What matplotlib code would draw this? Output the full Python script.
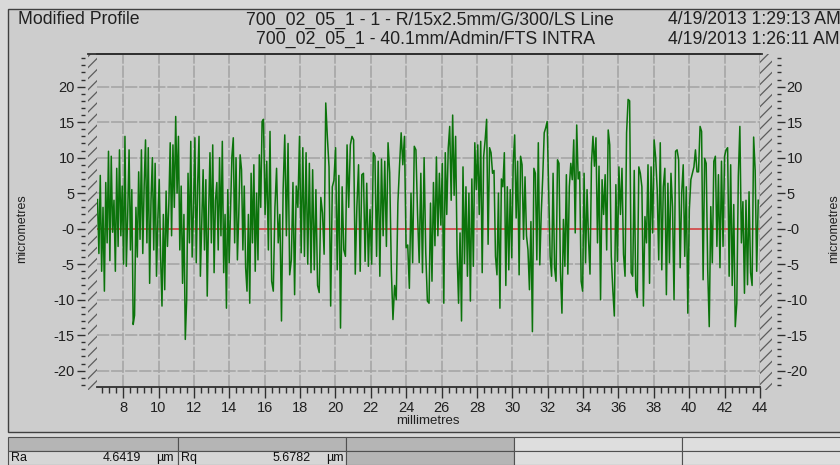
import numpy as np
import matplotlib
matplotlib.use("Agg")
import matplotlib.pyplot as plt
from matplotlib.patches import Rectangle
from matplotlib.lines import Line2D
from matplotlib.ticker import MultipleLocator, FixedLocator, FixedFormatter

plt.rcParams['font.family'] = ['Liberation Sans', 'DejaVu Sans']
plt.rcParams['hatch.linewidth'] = 0.9

# ---------------- text / labels ----------------
title_left = "Modified Profile"
title_lines = ["700_02_05_1 - 1 - R/15x2.5mm/G/300/LS Line",
               "700_02_05_1 - 40.1mm/Admin/FTS INTRA"]
dates = ["4/19/2013 1:29:13 AM", "4/19/2013 1:26:11 AM"]
x_label = "millimetres"
y_label = "micrometres"
x_ticks = list(range(8, 45, 2))
y_ticks = [-20, -15, -10, -5, 0, 5, 10, 15, 20]
y_tick_labels = ["-20", "-15", "-10", "-5", "-0", "5", "10", "15", "20"]
param_names = ["Ra", "Rq"]
param_values = ["4.6419", "5.6782"]
param_unit = "µm"

# ---------------- profile data (µm) ----------------
segment_edges_mm = [6.55, 15.93, 25.29, 34.64, 43.9]
seg1 = [4.1, -3.5, 7.5, -6.0, 3.0, -8.8, 6.5, -2.0, 10.9, -4.5, 10.2, -0.5, 4.0, -6.0,
        8.5, -2.5, 11.1, -1.0, 6.0, -5.0, 13.0, -5.3, 2.0, 11.1, -3.0, 5.5, -13.5, -12.2,
        3.0, -4.0, 8.0, -1.5, 11.1, -3.5, 6.0, 12.5, -2.0, 11.4, -7.7, 4.0, 10.0, -3.0,
        9.2, -6.7, 1.5, 6.9, -4.0, -10.9, 2.0, -8.6, 5.3, -2.5, 3.5, 12.1, -1.0, 11.8,
        3.0, 15.8, 5.0, 13.0, -3.0, 6.0, -7.7, 2.0, -15.6, -10.0, 7.8, -2.0, 12.3, -4.0,
        3.0, 12.8, -4.8, 6.0, 13.0, -6.7, 1.0, 8.3, -3.0, 6.9, -9.5, 2.0, 10.7, -2.0,
        11.8, -6.2, 4.0, 6.5, -3.0, 10.0, -1.0, 12.3, -6.2, 2.0, -11.2, 5.5, -4.8, 3.0,
        10.2, 12.8, -2.0, 10.0, -4.4, 2.0, 10.4, 8.3, -3.0, 6.0, -5.5, -8.8, 2.0, -10.5,
        7.8, -2.0, 9.0, -6.0, 5.0, -4.4, 10.4, 3.0, 15.1]
seg2 = [15.4, 2.0, 9.5, -3.0, 13.7, -7.4, -8.8, 3.0, 8.5, -2.0, 2.0, -13.0, 5.5, 13.2,
        -1.0, 12.0, -6.5, -4.4, 6.5, -9.3, 6.0, 3.0, 13.0, -3.4, 11.4, -3.9, 10.7, -5.0,
        9.2, -6.2, 8.3, -5.8, 5.5, -8.0, -9.0, 4.4, 2.2, -3.6, 17.7, 12.8, 8.7, -10.9,
        5.9, 6.8, 11.4, -5.8, 7.5, -14.0, 5.9, -3.0, -3.9, 11.8, 3.0, 11.8, 13.0, 12.5,
        -6.4, 3.2, 9.0, -6.0, 7.6, 7.8, -4.6, 6.4, -5.3, 2.7, -5.0, 10.7, 10.2, -3.9,
        9.5, -6.7, 9.8, -1.0, 9.5, -2.5, 12.1, 7.9, -5.8, -12.8, -8.0, -10.0, 3.6, 8.8,
        13.5, 9.0, 13.0, -2.7, -2.3, -8.4, 5.0, -4.8, 11.6, 11.1, 2.0, -4.8, 7.8, -6.2,
        10.0, -3.4, -10.2]
seg3 = [-10.5, 3.6, -7.4, 6.5, -2.4, 10.1, -1.0, 7.8, 0.5, 9.2, -10.5, 10.7, 2.0, 11.3,
        14.4, 4.0, 16.0, 4.7, 13.0, -3.4, -10.5, -0.6, -13.0, 8.7, -4.9, 5.9, -6.7, 5.0,
        -10.2, 7.0, -5.3, 12.1, 5.5, 11.8, 2.0, 12.3, -6.2, 10.2, 12.5, 15.4, -2.2, 11.4,
        10.7, 7.8, 8.2, -3.9, -6.5, 5.0, -11.2, 7.0, 5.9, 10.7, -8.0, 5.9, -5.8, 5.5,
        -4.1, 9.2, 13.2, 1.5, 9.5, -6.5, 10.2, 9.0, -1.5, 7.3, -1.0, -3.0, -8.6, 1.0,
        -14.5, 8.5, 7.8, -4.4, 12.1, -5.1, 2.2, 7.3, 13.5, 14.2, 15.1, 5.9, -3.9, -6.7,
        7.8, -5.5, -7.4, 9.7, 9.2, -6.2, -11.9, 1.3, -5.3, 7.6, -6.4, 5.9, 9.2, 6.9,
        12.5, -0.6, 14.6, 7.0, 8.0, -7.4, -8.8, 7.8, -4.8, 5.5, -1.5, -6.4, 9.2, 13.0]
seg4 = [8.8, 12.8, -2.0, 8.8, -10.0, 6.9, 2.0, 7.6, -3.0, 13.9, 11.8, -3.9, -8.6, -12.3,
        6.2, -4.6, 8.7, 2.0, 8.5, -3.6, -6.7, 13.5, 18.2, 18.0, -6.2, -6.7, 8.2, -8.6,
        -9.7, 8.7, 7.8, 5.9, -10.9, 1.7, -2.0, 9.0, -7.7, 8.7, -0.6, 12.5, 10.0, 5.5,
        -4.4, 12.1, -5.8, 5.9, 8.5, -9.3, 6.4, -4.8, 7.8, 3.1, -10.0, 10.9, 11.1, 9.7,
        -5.5, 5.0, 9.0, -3.9, 5.9, -11.9, 2.7, 6.9, 7.8, 8.7, 11.1, 8.0, 8.0, 14.4, 13.7,
        -7.2, 9.9, 9.2, -5.8, -13.8, 3.1, -4.8, 9.5, 10.2, -2.5, 7.6, -5.5, 9.5, -2.5,
        10.2, 11.1, 11.4, -6.7, 9.0, -8.0, 3.4, -13.8, -10.5, 7.4, 14.4, -2.0, 3.8, -9.1,
        4.0, -7.9, 5.2, -6.2, -8.0, 12.9, 8.2, -6.0, 4.0]
segments = [seg1, seg2, seg3, seg4]

xs, ys = [], []
for i, seg in enumerate(segments):
    last = (i == len(segments) - 1)
    xs.append(np.linspace(segment_edges_mm[i], segment_edges_mm[i + 1], len(seg), endpoint=last))
    ys.append(np.array(seg, dtype=float))
x = np.concatenate(xs)
y = np.concatenate(ys)

# ---------------- figure ----------------
W, H = 840, 465
fig = plt.figure(figsize=(W / 100, H / 100), dpi=100)
fig.patch.set_facecolor('#d9d9d9')

def fx(px):
    return px / W

def fy(py):
    return 1 - py / H

# outer panel
fig.add_artist(Rectangle((fx(8), fy(432)), fx(845 - 8), (432 - 9) / H, transform=fig.transFigure,
                         facecolor='#cdcdcd', edgecolor='#404040', lw=1.0, zorder=0))

ax = fig.add_axes([fx(97), fy(387), fx(760 - 97), (387 - 54) / H])
ax.set_facecolor('#cdcdcd')
ax.set_xlim(6.52, 44.0)
ax.set_ylim(-22.3, 24.6)

ax.plot(x, y, color='#0b730b', lw=1.1, zorder=3)
ax.axhline(0, color='#d65050', lw=1.3, zorder=2)

ax.set_axisbelow(True)
ax.grid(True, which='major', color='#a3a3a3', lw=1.1, linestyle=(0, (8, 1.2)))

ax.xaxis.set_major_locator(FixedLocator(x_ticks))
ax.xaxis.set_minor_locator(MultipleLocator(0.4))
ax.yaxis.set_major_locator(FixedLocator(y_ticks))
ax.yaxis.set_major_formatter(FixedFormatter(y_tick_labels))
ax.yaxis.set_minor_locator(MultipleLocator(1))

for s in ['left', 'right']:
    ax.spines[s].set_visible(False)
ax.spines['left'].set_position(('outward', 9))
ax.spines['right'].set_position(('outward', 12))
for s in ['top', 'bottom']:
    ax.spines[s].set_color('#303030')
    ax.spines[s].set_linewidth(1.3)

ax.yaxis.set_ticks_position('both')
ax.tick_params(axis='y', which='both', labelleft=True, labelright=True, direction='out',
               color='#303030', width=1.0, pad=1, labelsize=10.5, labelcolor='#202020')
ax.tick_params(axis='y', which='major', length=6)
ax.tick_params(axis='y', which='minor', length=3)
ax.tick_params(axis='x', which='both', direction='out', color='#303030', width=1.0,
               labelsize=10.5, labelcolor='#202020', pad=2)
ax.tick_params(axis='x', which='major', length=8)
ax.tick_params(axis='x', which='minor', length=4)

# hatched side walls
for (l, r) in [(88, 97), (760, 772)]:
    fig.add_artist(Rectangle((fx(l), fy(390)), fx(r - l), (390 - 54) / H, transform=fig.transFigure,
                             facecolor='none', edgecolor='#5c5c5c', lw=0, hatch='///', zorder=5))
fig.add_artist(Line2D([fx(88), fx(762)], [fy(54), fy(54)], transform=fig.transFigure,
                      color='#303030', lw=1.3, zorder=6))

# axis labels
fig.text(fx(22), fy(229), y_label, rotation=90, ha='center', va='center', fontsize=9, color='#202020')
fig.text(fx(834), fy(229), y_label, rotation=90, ha='center', va='center', fontsize=9, color='#202020')
fig.text(fx(428), fy(421), x_label, ha='center', va='center', fontsize=9.5, color='#202020')

# header
hs = 12.7
fig.text(fx(18), fy(20), title_left, ha='left', va='center', fontsize=hs, color='#202020')
fig.text(fx(430), fy(20), title_lines[0], ha='center', va='center', fontsize=hs, color='#202020')
fig.text(fx(425), fy(39), title_lines[1], ha='center', va='center', fontsize=hs, color='#202020')
fig.text(fx(668), fy(20), dates[0], ha='left', va='center', fontsize=hs, color='#202020')
fig.text(fx(668), fy(39), dates[1], ha='left', va='center', fontsize=hs, color='#202020')

# bottom parameter table
cols = [8, 178, 346, 514, 682, 845]
row_tops = [437, 451]
row_h = 14
header_colors = ['#b5b5b5', '#b5b5b5', '#b5b5b5', '#dedede', '#dedede']
body_colors = ['#d6d6d6', '#d6d6d6', '#b5b5b5', '#dedede', '#dedede']
for r, colors in zip(row_tops, [header_colors, body_colors]):
    for c in range(5):
        fig.add_artist(Rectangle((fx(cols[c]), fy(r + row_h)), fx(cols[c + 1] - cols[c]), row_h / H,
                                 transform=fig.transFigure, facecolor=colors[c],
                                 edgecolor='#505050', lw=0.8, zorder=1))
tfam = ['Liberation Sans Narrow', 'Liberation Sans', 'DejaVu Sans']
for i in range(2):
    c0 = cols[i]
    fig.text(fx(c0 + 3), fy(458), param_names[i], ha='left', va='center', fontsize=9,
             family=tfam, color='#101010')
    fig.text(fx(c0 + 133), fy(458), param_values[i], ha='right', va='center', fontsize=9,
             family=tfam, color='#101010')
    fig.text(fx(c0 + 148), fy(458), param_unit, ha='left', va='center', fontsize=9,
             family=tfam, color='#101010')

fig.savefig("out.png", dpi=100, facecolor=fig.get_facecolor())
